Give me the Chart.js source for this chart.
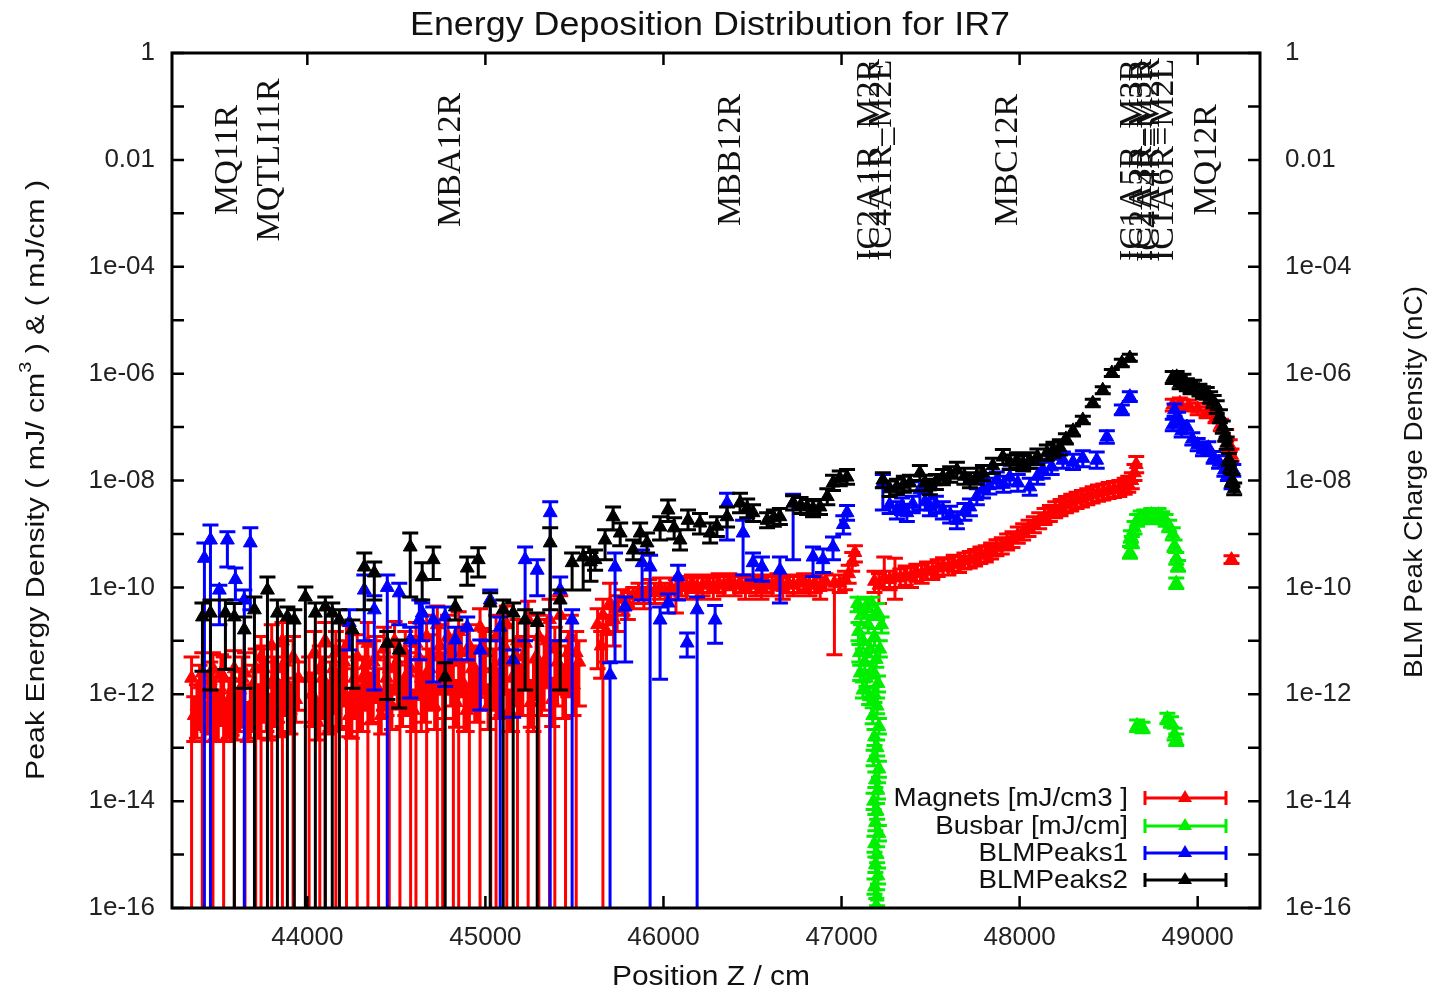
<!DOCTYPE html>
<html>
<head>
<meta charset="utf-8">
<script src="https://cdn.jsdelivr.net/npm/chart.js@4.4.1/dist/chart.umd.min.js"></script>
<style>
html,body{margin:0;padding:0;background:#fff;}
#wrap{position:relative;width:1438px;height:993px;}
</style>
</head>
<body>
<div id="wrap"><canvas id="c" width="1438" height="993"></canvas></div>
<script>
// Each row: [position Z (cm), value, lower end of error bar, upper end of error bar]
// A lower end of 0 means the error bar runs below the bottom of the axis.
const magnets = [
  [43350,2e-12,0,5e-12],[43380,6e-13,1.5e-13,1.5e-12],[43410,2.5e-12,0,6e-12],[43440,1e-12,2e-13,2.5e-12],
  [43470,3e-12,0,6e-12],[43500,5e-13,1.3e-13,1.2e-12],[43530,2e-12,0,5e-12],[43560,8e-13,1.5e-13,2e-12],
  [43590,3e-12,0,6.5e-12],[43620,1.2e-12,2e-13,3e-12],[43650,2.5e-12,0,6e-12],[43680,6e-13,1.5e-13,1.5e-12],
  [43710,3e-12,0,7e-12],[43740,5e-12,0,1.2e-11],[43770,1.5e-12,2e-13,4e-12],[43800,8e-12,0,2e-11],
  [43830,3e-12,3e-13,8e-12],[43860,1e-11,0,2.2e-11],[43890,1.5e-12,2e-13,4e-12],[43920,5e-12,0,1.2e-11],
  [43950,2e-12,5e-13,4e-12],[44010,2e-12,0,5e-12],[44040,6e-12,3e-13,1.5e-11],[44070,3e-12,0,8e-12],
  [44100,1e-11,0,2.2e-11],[44130,1.5e-12,2e-13,4e-12],[44160,6e-12,0,1.5e-11],[44190,2.5e-12,2.5e-13,7e-12],
  [44220,8e-12,0,2e-11],[44250,1e-12,1.5e-13,3e-12],[44280,5e-12,0,1.3e-11],[44310,2e-12,2e-13,5e-12],
  [44340,9e-12,0,2.2e-11],[44370,4e-12,3e-13,1e-11],[44400,1.2e-12,0,3e-12],[44430,7e-12,5e-13,1.8e-11],
  [44460,3e-12,0,8e-12],[44490,1e-11,1e-12,2.3e-11],[44520,1.5e-12,0,4e-12],[44550,6e-12,4e-13,1.5e-11],
  [44580,3e-12,0,8e-12],[44610,9e-12,0,2.2e-11],[44640,2e-12,2e-13,5e-12],[44670,1.2e-11,0,3e-11],
  [44700,5e-12,5e-13,1.3e-11],[44730,2e-11,0,4.5e-11],[44760,2.5e-12,0,6e-12],[44790,1.2e-11,1e-12,3e-11],
  [44820,4e-12,0,1e-11],[44850,1.5e-11,0,3.5e-11],[44880,1.5e-12,2e-13,4e-12],[44910,8e-12,0,2e-11],
  [44940,3e-12,3e-13,8e-12],[44970,1.8e-11,0,4e-11],[45000,6e-12,5e-13,1.5e-11],[45030,1e-12,0,3e-12],
  [45060,1.2e-11,0,3e-11],[45090,4e-12,4e-13,1e-11],[45120,2e-11,0,4.5e-11],[45150,2e-12,2e-13,5e-12],
  [45180,1e-11,0,2.5e-11],[45210,5e-12,4e-13,1.2e-11],[45240,2.5e-11,0,5.5e-11],[45270,1.5e-12,2e-13,4e-12],
  [45300,1.2e-11,0,3e-11],[45330,4e-12,5e-13,1e-11],[45360,2.5e-11,0,6e-11],[45390,7e-12,0,1.8e-11],
  [45420,3e-11,1e-12,7e-11],[45450,3e-12,0,8e-12],[45480,1.2e-11,1e-12,3e-11],[45510,6e-12,0,1.5e-11],
  [43365,4e-13,1.3e-13,9e-13],[43395,1.5e-12,2.2e-13,3.5e-12],[43425,3e-13,1.3e-13,7e-13],[43455,1.8e-12,1.8e-13,4e-12],
  [43485,8e-13,1.4e-13,2e-12],[43515,2.5e-12,2.6e-13,5.5e-12],[43545,3.5e-13,1.3e-13,8e-13],[43575,1.2e-12,1.7e-13,3e-12],
  [43605,5e-13,1.4e-13,1.2e-12],[43635,2e-12,2.4e-13,5e-12],[43665,3e-13,1.3e-13,7e-13],[43695,1.5e-12,2e-13,3.5e-12],
  [43725,6e-13,1.5e-13,1.5e-12],[43755,3e-12,3e-13,8e-12],[43785,4e-13,1.4e-13,1e-12],[43815,2e-12,2.5e-13,5e-12],
  [43845,7e-13,1.6e-13,1.8e-12],[43875,4e-12,4e-13,1e-11],[43905,5e-13,1.8e-13,1.2e-12],[43935,8e-13,3e-13,2e-12],
  [44025,1e-12,2.5e-13,2.5e-12],[44055,3e-13,1.4e-13,8e-13],[44085,2e-12,3.5e-13,5e-12],[44115,5e-13,1.8e-13,1.3e-12],
  [44145,3e-12,4.5e-13,8e-12],[44175,8e-13,2.2e-13,2e-12],[44205,4e-12,6e-13,1e-11],[44235,4e-13,1.6e-13,1e-12],
  [44265,2e-12,3.5e-13,5e-12],[44295,6e-13,2e-13,1.5e-12],[44325,3.5e-12,5e-13,9e-12],[44355,1e-12,2.8e-13,2.5e-12],
  [44385,5e-12,7e-13,1.2e-11],[44415,4e-13,1.8e-13,1e-12],[44445,2e-12,4e-13,5e-12],[44475,6e-13,2.2e-13,1.5e-12],
  [44505,4e-12,6e-13,1e-11],[44535,8e-13,2.5e-13,2e-12],[44565,2.5e-12,4.5e-13,6e-12],[44595,5e-13,2e-13,1.2e-12],
  [44625,5e-12,8e-13,1.2e-11],[44655,1e-12,3e-13,2.5e-12],[44685,3e-12,5e-13,7e-12],[44715,6e-13,2.2e-13,1.5e-12],
  [44745,8e-12,1e-12,2e-11],[44775,1.2e-12,3.5e-13,3e-12],[44805,4e-12,6e-13,1e-11],[44835,7e-13,2.4e-13,1.8e-12],
  [44865,6e-12,9e-13,1.5e-11],[44895,5e-13,2e-13,1.2e-12],[44925,3e-12,5e-13,7e-12],[44955,1e-12,3e-13,2.5e-12],
  [44985,7e-12,1e-12,1.7e-11],[45015,6e-13,2.2e-13,1.5e-12],[45045,3e-12,5e-13,7e-12],[45075,1.2e-12,3.5e-13,3e-12],
  [45105,8e-12,1e-12,2e-11],[45135,5e-13,2e-13,1.2e-12],[45165,4e-12,6e-13,1e-11],[45195,1.5e-12,4e-13,3.5e-12],
  [45225,9e-12,1.2e-12,2.2e-11],[45255,7e-13,2.4e-13,1.8e-12],[45285,5e-12,8e-13,1.2e-11],[45315,1.5e-12,4e-13,3.5e-12],
  [45345,1e-11,1.4e-12,2.5e-11],[45375,8e-13,2.5e-13,2e-12],[45405,4e-12,6e-13,1e-11],[45435,1.2e-12,3.5e-13,3e-12],
  [45465,6e-12,9e-13,1.5e-11],[45495,1.5e-12,4e-13,3.5e-12],[45525,4e-12,6e-13,1e-11],
  [45630,2e-11,3e-12,4e-11],[45650,8e-12,2e-12,1.5e-11],[45660,3e-11,0,6e-11],[45680,1.5e-11,4e-12,3e-11],
  [45700,5e-11,2e-11,1.2e-10],[45720,2.5e-11,8e-12,4e-11],[45740,4e-11,1.5e-11,7e-11],[45770,6e-11,3e-11,9e-11],
  [45800,5e-11,2.5e-11,8e-11],[45830,7e-11,4e-11,1e-10],[45860,8e-11,5e-11,1.2e-10],[45890,7e-11,4e-11,1e-10],
  [45920,9e-11,5e-11,1.4e-10],[45950,8e-11,5e-11,1.2e-10],[45980,1e-10,6e-11,1.5e-10],[46010,8e-11,5e-11,1.2e-10],
  [46040,1e-10,6e-11,1.5e-10],[46070,9e-11,3.3e-11,1.4e-10],[46100,1.1e-10,7e-11,1.6e-10],[46130,1e-10,6e-11,1.5e-10],
  [46160,1.2e-10,8e-11,1.7e-10],[46190,1e-10,6e-11,1.5e-10],[46220,1.1e-10,7e-11,1.6e-10],[46250,1.2e-10,8e-11,1.7e-10],
  [46280,1e-10,6e-11,1.5e-10],[46310,1.2e-10,8e-11,1.8e-10],[46340,1.1e-10,7e-11,1.6e-10],[46370,1.3e-10,9e-11,1.8e-10],
  [46400,1.1e-10,7e-11,1.6e-10],[46430,1.2e-10,8e-11,1.7e-10],[46460,1e-10,6e-11,1.5e-10],[46490,1.2e-10,8e-11,1.7e-10],
  [46520,1.1e-10,7e-11,1.6e-10],[46550,1e-10,6e-11,1.5e-10],[46580,1.2e-10,8e-11,1.7e-10],[46610,1.1e-10,7e-11,1.6e-10],
  [46640,1.3e-10,9e-11,1.8e-10],[46670,1e-10,6e-11,1.5e-10],[46700,1.2e-10,8e-11,1.7e-10],[46730,1.1e-10,7e-11,1.6e-10],
  [46760,1.2e-10,8e-11,1.7e-10],[46790,1.3e-10,9e-11,1.8e-10],[46820,1.1e-10,7e-11,1.6e-10],[46850,1.2e-10,8e-11,1.7e-10],
  [46880,1e-10,6e-11,1.5e-10],[46910,1.3e-10,9e-11,1.8e-10],[46960,1.2e-10,5.5e-12,1.7e-10],[46990,1.2e-10,8e-11,1.7e-10],
  [47020,1.4e-10,9e-11,2e-10],[47040,1.8e-10,1.2e-10,2.6e-10],[47060,3e-10,2e-10,4.5e-10],[47075,4.5e-10,3e-10,6e-10],
  [47185,1.3e-10,8e-11,2e-10],[47210,1.1e-10,5e-11,1.8e-10],[47240,1.5e-10,1e-10,3.7e-10],[47270,1.4e-10,9e-11,2e-10],
  [47300,1.6e-10,6e-11,3.5e-10],[47330,1.5e-10,1e-10,2.2e-10],[47360,1.7e-10,1.1e-10,2.5e-10],[47390,1.6e-10,1e-10,2.3e-10],
  [47420,1.9e-10,1.3e-10,2.7e-10],[47450,1.8e-10,1.2e-10,2.6e-10],[47480,2.1e-10,1.4e-10,3e-10],[47510,2e-10,1.4e-10,2.9e-10],
  [47540,2.3e-10,1.6e-10,3.3e-10],[47570,2.5e-10,1.7e-10,3.6e-10],[47600,2.4e-10,1.7e-10,3.4e-10],[47630,2.8e-10,2e-10,4e-10],
  [47660,2.7e-10,1.9e-10,3.8e-10],[47690,3.1e-10,2.2e-10,4.4e-10],[47720,3.3e-10,2.3e-10,4.7e-10],[47750,3.6e-10,2.5e-10,5.1e-10],
  [47780,4e-10,2.8e-10,5.7e-10],[47810,4.2e-10,3e-10,6e-10],[47840,4.8e-10,3.4e-10,6.8e-10],[47870,5.5e-10,3.9e-10,7.8e-10],
  [47900,6e-10,4.2e-10,8.5e-10],[47930,7e-10,5e-10,1e-9],[47960,8e-10,5.6e-10,1.1e-9],[47990,9.5e-10,6.7e-10,1.35e-9],
  [48020,1.1e-9,7.7e-10,1.55e-9],[48050,1.3e-9,9e-10,1.8e-9],[48080,1.5e-9,1.05e-9,2.1e-9],[48110,1.8e-9,1.25e-9,2.5e-9],
  [48140,2.1e-9,1.5e-9,3e-9],[48170,2.4e-9,1.7e-9,3.4e-9],[48200,2.8e-9,2e-9,4e-9],[48230,3.1e-9,2.2e-9,4.4e-9],
  [48260,3.5e-9,2.5e-9,5e-9],[48290,3.9e-9,2.7e-9,5.5e-9],[48320,4.3e-9,3e-9,6e-9],[48350,4.6e-9,3.2e-9,6.5e-9],
  [48380,5e-9,3.5e-9,7e-9],[48410,5.4e-9,3.8e-9,7.6e-9],[48440,5.8e-9,4.1e-9,8.2e-9],[48470,6.1e-9,4.3e-9,8.6e-9],
  [48500,6.5e-9,4.6e-9,9.2e-9],[48530,6.8e-9,4.8e-9,9.6e-9],[48560,7.2e-9,5e-9,1e-8],[48590,7.8e-9,5.5e-9,1.1e-8],
  [48610,8.5e-9,6e-9,1.2e-8],[48630,1e-8,7e-9,1.4e-8],[48645,1.4e-8,1e-8,2e-8],[48655,2e-8,1.4e-8,2.8e-8],
  [48860,2.6e-7,2e-7,3.3e-7],[48900,2.8e-7,2.2e-7,3.5e-7],[48950,2.5e-7,2e-7,3.2e-7],[49000,2.2e-7,1.7e-7,2.8e-7],
  [49050,1.9e-7,1.5e-7,2.4e-7],[49100,1.5e-7,1.2e-7,1.9e-7],[49130,1.1e-7,8.5e-8,1.4e-7],[49160,7e-8,5.5e-8,9e-8],
  [49180,4.5e-8,3.5e-8,5.8e-8],[49190,3e-8,2.3e-8,3.9e-8],[49190,3.3e-10,2.8e-10,3.9e-10]
];
const busbar = [
  [47090,5e-11,3.5e-11,6.5e-11],[47110,3e-11,2e-11,4e-11],[47140,4.5e-11,3e-11,6e-11],[47170,5e-11,3.5e-11,6.5e-11],
  [47200,3.5e-11,2.5e-11,5e-11],[47225,2e-11,1.4e-11,2.8e-11],[47095,1.5e-11,1e-11,2.2e-11],[47120,1e-11,7e-12,1.4e-11],
  [47150,2e-11,1.4e-11,2.8e-11],[47185,1.2e-11,8e-12,1.7e-11],[47215,7e-12,5e-12,1e-11],[47100,6e-12,4e-12,8.5e-12],
  [47130,4e-12,2.8e-12,5.6e-12],[47160,7e-12,5e-12,1e-11],[47195,4.5e-12,3.2e-12,6.3e-12],[47105,2.5e-12,1.8e-12,3.5e-12],
  [47140,2e-12,1.4e-12,2.8e-12],[47175,2.8e-12,2e-12,4e-12],[47205,1.6e-12,1.1e-12,2.2e-12],[47120,1.2e-12,8.5e-13,1.7e-12],
  [47155,9e-13,6.4e-13,1.3e-12],[47185,1e-12,7e-13,1.4e-12],[47200,6e-13,4.3e-13,8.5e-13],[47175,4e-13,2.8e-13,5.6e-13],
  [47210,2.5e-13,1.8e-13,3.5e-13],[47185,1.6e-13,1.1e-13,2.2e-13],[47200,1e-13,7e-14,1.4e-13],[47180,6.5e-14,4.6e-14,9e-14],
  [47210,4e-14,2.8e-14,5.6e-14],[47190,2.5e-14,1.8e-14,3.5e-14],[47205,1.6e-14,1.1e-14,2.2e-14],[47180,1e-14,7e-15,1.4e-14],
  [47200,6.5e-15,4.6e-15,9e-15],[47190,4e-15,2.8e-15,5.6e-15],[47210,2.5e-15,1.8e-15,3.5e-15],[47185,1.6e-15,1.1e-15,2.2e-15],
  [47200,1e-15,7e-16,1.4e-15],[47190,6.5e-16,4.6e-16,9e-16],[47205,4e-16,2.8e-16,5.6e-16],[47185,2.5e-16,1.8e-16,3.5e-16],
  [47200,1.6e-16,1.1e-16,2.2e-16],[47195,1.1e-16,8e-17,1.5e-16],
  [48620,4.5e-10,3.5e-10,5.8e-10],[48625,9e-10,7e-10,1.15e-9],[48630,7e-10,5.5e-10,9e-10],[48645,1.3e-9,1e-9,1.7e-9],
  [48660,1.8e-9,1.4e-9,2.3e-9],[48680,2.1e-9,1.6e-9,2.7e-9],[48700,2.2e-9,1.7e-9,2.8e-9],[48720,2e-9,1.55e-9,2.6e-9],
  [48740,2.3e-9,1.8e-9,3e-9],[48760,2.1e-9,1.6e-9,2.7e-9],[48780,2.3e-9,1.8e-9,3e-9],[48800,2e-9,1.55e-9,2.6e-9],
  [48820,1.8e-9,1.4e-9,2.3e-9],[48840,1.4e-9,1.1e-9,1.8e-9],[48860,1e-9,7.8e-10,1.3e-9],[48870,6e-10,4.7e-10,7.7e-10],
  [48880,3.5e-10,2.7e-10,4.5e-10],[48890,2.5e-10,2e-10,3.2e-10],[48880,1.2e-10,9.5e-11,1.5e-10],
  [48660,2.6e-13,2e-13,3.3e-13],[48690,2.4e-13,1.9e-13,3e-13],[48830,3.5e-13,2.8e-13,4.4e-13],[48850,3e-13,2.4e-13,3.8e-13],
  [48870,1.8e-13,1.4e-13,2.3e-13],[48880,1.4e-13,1.1e-13,1.8e-13]
];
const blmPeaks1 = [
  [43422,3.5e-10,0,6.8e-10],[43456,7.7e-10,0,1.47e-9],[43506,8.9e-11,2e-11,1.1e-10],[43551,7.7e-10,2.4e-10,1.1e-9],
  [43596,1.4e-10,5.8e-11,2.3e-10],[43646,5.8e-11,0,8.9e-11],[43680,6.8e-10,3.8e-11,1.3e-9],
  [44236,2.2e-11,6.7e-12,3.8e-11],[44320,8.9e-11,1e-11,1.7e-10],[44376,3.8e-11,1.2e-12,7e-11],[44449,1e-10,0,1.7e-10],
  [44516,7.9e-11,2e-11,1.2e-10],[44578,1.04e-11,8.5e-13,1.8e-11],[44629,2.45e-11,4.4e-12,5.8e-11],[44645,3.3e-11,1e-11,5.1e-11],
  [44707,2.45e-11,1.7e-12,4.3e-11],[44774,2.8e-11,1.4e-12,4.3e-11],[44831,1.04e-11,4.4e-12,1.8e-11],[44898,1.8e-11,4.4e-12,2.8e-11],
  [44971,6.7e-12,5.1e-13,1.04e-11],[45027,5.8e-11,1e-11,8.9e-11],[45083,1.8e-11,0,2.8e-11],[45156,4.4e-12,3.7e-13,6.7e-12],
  [45223,3.3e-10,1e-11,5.7e-10],[45291,2.1e-10,7e-11,3.3e-10],[45364,2.5e-9,0,4e-9],[45420,8.9e-11,1e-11,1.57e-10],
  [45487,2.45e-11,0,3.8e-11],[45700,2.3e-12,0,3.9e-12],[45728,2.4e-10,4e-12,4.4e-10],[45785,4.3e-11,4e-12,6.6e-11],
  [45880,2.9e-10,5.8e-11,5e-10],[45925,2.4e-10,0,4e-10],[45981,2.45e-11,1.9e-12,4.3e-11],[46026,5.1e-11,3.3e-11,7.5e-11],
  [46082,1.57e-10,5.8e-11,2.6e-10],[46133,9.1e-12,5e-12,1.4e-11],[46189,3.8e-11,0,6.6e-11],[46290,2.45e-11,9e-12,4.6e-11],
  [46357,3.8e-9,7.7e-10,5.8e-9],[46447,1.04e-9,1.7e-10,1.8e-9],[46503,2.9e-10,1.37e-10,4.4e-10],[46553,2.4e-10,1.3e-10,3.7e-10],
  [46654,2.1e-10,5.1e-11,3.7e-10],[46728,3.8e-9,3.3e-10,5.5e-9],[46840,3.7e-10,1.6e-10,5.7e-10],[46896,3.3e-10,1.9e-10,5.2e-10],
  [46952,5.7e-10,3.3e-10,8.8e-10],[47010,1.5e-9,1e-9,2.2e-9],[47031,2.5e-9,1.8e-9,3.4e-9],
  [47232,9e-9,2.8e-9,1.3e-8],[47270,3.5e-9,2.4e-9,5e-9],[47311,2.8e-9,1.9e-9,4e-9],[47340,3.3e-9,2.3e-9,4.7e-9],
  [47367,2.5e-9,1.7e-9,3.6e-9],[47400,3.6e-9,2.5e-9,5.1e-9],[47440,6.7e-9,2.8e-9,9.5e-9],[47470,4e-9,2.8e-9,5.7e-9],
  [47496,3.2e-9,2.2e-9,4.5e-9],[47530,3.6e-9,2.5e-9,5.1e-9],[47569,2.8e-9,1.9e-9,4e-9],[47610,2.3e-9,1.6e-9,3.3e-9],
  [47648,1.8e-9,1.25e-9,2.6e-9],[47690,2.6e-9,1.8e-9,3.7e-9],[47721,3.2e-9,2.2e-9,4.5e-9],[47760,5e-9,3.5e-9,7e-9],
  [47794,6.7e-9,4.7e-9,9.5e-9],[47830,8e-9,5.6e-9,1.1e-8],[47872,1.02e-8,7.2e-9,1.45e-8],[47910,8.5e-9,6e-9,1.2e-8],
  [47945,1.16e-8,8.2e-9,1.65e-8],[47990,9e-9,6.3e-9,1.3e-8],[48057,7.6e-9,5.3e-9,1.1e-8],[48100,1.2e-8,8.5e-9,1.7e-8],
  [48130,1.57e-8,1.1e-8,2.2e-8],[48180,1.8e-8,1.3e-8,2.5e-8],[48243,2.4e-8,1.7e-8,3.4e-8],[48300,2.2e-8,1.6e-8,3.1e-8],
  [48355,2.6e-8,1.8e-8,3.6e-8],[48433,2.4e-8,1.7e-8,3.4e-8],[48490,6.5e-8,5e-8,8.5e-8],[48574,2.1e-7,1.7e-7,2.6e-7],
  [48619,3.7e-7,3e-7,4.6e-7],
  [48860,1.1e-7,8.5e-8,1.4e-7],[48870,2.1e-7,1.6e-7,2.7e-7],[48890,1.5e-7,1.15e-7,1.9e-7],[48910,8.5e-8,6.5e-8,1.1e-7],
  [48940,1e-7,7.7e-8,1.3e-7],[48970,6e-8,4.6e-8,7.8e-8],[49000,4.7e-8,3.6e-8,6.1e-8],[49030,3.8e-8,2.9e-8,4.9e-8],
  [49060,4.1e-8,3.2e-8,5.3e-8],[49090,2.7e-8,2.1e-8,3.5e-8],[49120,2.2e-8,1.7e-8,2.9e-8],[49150,1.57e-8,1.2e-8,2e-8],
  [49170,1.3e-8,1e-8,1.7e-8],[49190,9e-9,7e-9,1.2e-8],[49200,1.57e-8,1.2e-8,2e-8]
];
const blmPeaks2 = [
  [43411,2.8e-11,2.7e-12,5.1e-11],[43456,3.3e-11,1.2e-12,5.8e-11],[43540,3.3e-11,2.9e-12,5.8e-11],[43590,2.8e-11,0,5e-11],
  [43646,1.6e-11,1.3e-12,2.8e-11],[43703,3.8e-11,0,6.6e-11],[43776,8.9e-11,0,1.57e-10],[43832,3.3e-11,0,5.8e-11],
  [43888,2.8e-11,0,4.3e-11],[43927,2.45e-11,0,3.8e-11],[43989,6.6e-11,0,1.02e-10],[44045,3.3e-11,0,5.1e-11],
  [44101,4.3e-11,0,6.6e-11],[44140,3.3e-11,0,5.1e-11],[44180,2.45e-11,0,3.8e-11],[44253,1.6e-11,1.3e-12,2.45e-11],
  [44320,2.4e-10,3.8e-11,4.4e-10],[44376,1.86e-10,5.8e-11,3e-10],[44449,9e-12,8e-13,1.5e-11],[44516,6.7e-12,5.5e-13,1.04e-11],
  [44578,5.7e-10,6.6e-11,1.04e-9],[44645,1.57e-10,5.8e-11,2.9e-10],[44707,3.3e-10,1.4e-10,5.7e-10],[44774,2.1e-12,0,3.9e-12],
  [44831,4.3e-11,2.45e-11,6.6e-11],[44898,2.3e-10,1.1e-10,3.7e-10],[44960,3.3e-10,1.57e-10,5.5e-10],[45027,5.1e-11,0,7.9e-11],
  [45100,3.8e-11,0,5.8e-11],[45156,3.3e-11,0,5.1e-11],[45223,2.45e-11,1.2e-12,3.8e-11],[45291,2.2e-11,0,3.3e-11],
  [45364,6.8e-10,3.8e-11,1.3e-9],[45420,5.8e-11,1.2e-12,8.9e-11],[45487,2.9e-10,8.9e-11,4.4e-10],[45549,3.7e-10,8.9e-11,5.7e-10],
  [45590,3e-10,1.3e-10,4.5e-10],[45616,3.3e-10,2.1e-10,5e-10],[45672,7.7e-10,3.3e-10,1.2e-9],[45717,2.1e-9,1.19e-9,3.2e-9],
  [45757,1.04e-9,6e-10,1.6e-9],[45830,5e-10,3.3e-10,7.7e-10],[45869,1.04e-9,6.8e-10,1.6e-9],[45908,6.8e-10,4.4e-10,1.04e-9],
  [45981,1.35e-9,7.7e-10,2.1e-9],[46026,2.8e-9,1.7e-9,4.3e-9],[46060,1.3e-9,8e-10,2e-9],[46093,7.7e-10,5e-10,1.2e-9],
  [46138,1.8e-9,1.2e-9,2.8e-9],[46205,1.6e-9,1e-9,2.4e-9],[46262,1.04e-9,6.8e-10,1.6e-9],[46300,1.4e-9,9e-10,2.1e-9],
  [46357,2.1e-9,1.35e-9,3.2e-9],[46430,3.8e-9,2.5e-9,5.8e-9],[46470,3e-9,2e-9,4.5e-9],[46503,2.5e-9,1.7e-9,3.5e-9],
  [46582,1.8e-9,1.3e-9,2.5e-9],[46620,2e-9,1.4e-9,2.8e-9],[46654,2.1e-9,1.5e-9,3e-9],[46728,3.8e-9,2.8e-9,5.2e-9],
  [46770,3.4e-9,2.4e-9,4.8e-9],[46806,3.2e-9,2.3e-9,4.4e-9],[46840,3e-9,2.1e-9,4.2e-9],[46879,3.2e-9,2.3e-9,4.4e-9],
  [46920,5e-9,3.5e-9,7e-9],[46952,9e-9,6.5e-9,1.25e-8],[46990,1.1e-8,8e-9,1.5e-8],[47031,1.16e-8,8.5e-9,1.6e-8],
  [47232,1.02e-8,7.3e-9,1.4e-8],[47270,7e-9,5e-9,9.8e-9],[47311,7.6e-9,5.4e-9,1.05e-8],[47350,8.5e-9,6e-9,1.2e-8],
  [47384,9e-9,6.4e-9,1.25e-8],[47440,1.38e-8,1e-8,1.9e-8],[47470,9e-9,6.4e-9,1.25e-8],[47496,7.6e-9,5.4e-9,1.05e-8],
  [47530,9.5e-9,6.8e-9,1.3e-8],[47569,1.16e-8,8.3e-9,1.6e-8],[47610,1.3e-8,9.3e-9,1.8e-8],[47648,1.57e-8,1.1e-8,2.2e-8],
  [47690,1.2e-8,8.5e-9,1.7e-8],[47721,1.02e-8,7.3e-9,1.4e-8],[47760,1.2e-8,8.5e-9,1.7e-8],[47794,1.38e-8,1e-8,1.9e-8],
  [47850,1.9e-8,1.35e-8,2.6e-8],[47906,2.75e-8,2e-8,3.8e-8],[47945,2.2e-8,1.6e-8,3e-8],[47985,2.4e-8,1.7e-8,3.3e-8],
  [48020,2.1e-8,1.5e-8,2.9e-8],[48057,2.4e-8,1.7e-8,3.3e-8],[48100,2.8e-8,2e-8,3.9e-8],[48153,3.3e-8,2.4e-8,4.6e-8],
  [48190,3.8e-8,2.7e-8,5.2e-8],[48226,4.2e-8,3e-8,5.8e-8],[48260,6e-8,4.8e-8,7.5e-8],[48300,8.5e-8,6.8e-8,1.05e-7],
  [48355,1.36e-7,1.15e-7,1.6e-7],[48411,2.8e-7,2.4e-7,3.3e-7],[48467,4.9e-7,4.2e-7,5.7e-7],[48518,1.03e-6,8.8e-7,1.2e-6],
  [48574,1.58e-6,1.35e-6,1.85e-6],[48619,1.96e-6,1.7e-6,2.3e-6],
  [48860,8.5e-7,6.5e-7,1.1e-6],[48882,8.7e-7,6.7e-7,1.1e-6],[48899,6.7e-7,5.2e-7,8.7e-7],[48920,7.5e-7,5.8e-7,9.7e-7],
  [48939,6.2e-7,4.8e-7,8e-7],[48960,5.4e-7,4.2e-7,7e-7],[48980,5.8e-7,4.5e-7,7.5e-7],[49010,4.9e-7,3.8e-7,6.3e-7],
  [49030,4.4e-7,3.4e-7,5.7e-7],[49051,4.3e-7,3.3e-7,5.5e-7],[49070,3.6e-7,2.8e-7,4.6e-7],[49090,3e-7,2.3e-7,3.9e-7],
  [49107,2.4e-7,1.8e-7,3.1e-7],[49125,1.6e-7,1.2e-7,2.1e-7],[49141,1e-7,7.7e-8,1.3e-7],[49155,7e-8,5.4e-8,9e-8],
  [49163,5e-8,3.8e-8,6.5e-8],[49175,2.5e-8,1.9e-8,3.2e-8],[49185,1.8e-8,1.4e-8,2.3e-8],[49195,1e-8,7.7e-9,1.3e-8],
  [49205,7e-9,5.4e-9,9e-9]
];

const seriesNames = ['Magnets [mJ/cm3 ]', 'Busbar [mJ/cm]', 'BLMPeaks1', 'BLMPeaks2'];
const seriesColors = ['#ff0000', '#00ee00', '#0000ff', '#000000'];
const xTickValues = [44000, 45000, 46000, 47000, 48000, 49000];
const yTickValues = [1, 1e-1, 1e-2, 1e-3, 1e-4, 1e-5, 1e-6, 1e-7, 1e-8, 1e-9, 1e-10, 1e-11, 1e-12, 1e-13, 1e-14, 1e-15, 1e-16];
const elementLabels = [
  ['MQ11R', 43557], ['MQTLI11R', 43792], ['MBA12R', 44808], ['MBB12R', 46379],
  ['IC2A1R_M2R', 47160], ['IC4A1R_M2E', 47230], ['MBC12R', 47934],
  ['IC1A5R_M3R', 48640], ['IC2A3R_M3R', 48690], ['IC4A4R=M2R', 48730], ['IC1A6R=M2L', 48810], ['MQ12R', 49050]
];
const labelLevel = 0.01;

const seriesData = [magnets, busbar, blmPeaks1, blmPeaks2];

function yLabel(v) {
  const e = Math.round(Math.log10(v));
  if (e % 2 !== 0) return '';
  if (e === 0) return '1';
  if (e === -2) return '0.01';
  return '1e-' + String(-e).padStart(2, '0');
}

const SANS = '"Liberation Sans", Arial, sans-serif';
const SERIF = '"Liberation Serif", "Times New Roman", serif';

function fitText(ctx, text, cx, cy, len, size, family, rot) {
  ctx.save();
  ctx.font = size + 'px ' + family;
  const w = ctx.measureText(text).width;
  ctx.translate(cx, cy);
  ctx.rotate(rot);
  if (len) ctx.scale(len / w, 1);
  ctx.textAlign = 'center';
  ctx.textBaseline = 'middle';
  ctx.fillText(text, 0, 0);
  ctx.restore();
}

const errorBarPlugin = {
  id: 'errorBars',
  beforeDatasetDraw(chart, args) {
    const rows = seriesData[args.index];
    const color = seriesColors[args.index];
    const xs = chart.scales.x, ys = chart.scales.y, a = chart.chartArea;
    const ctx = chart.ctx;
    ctx.save();
    ctx.beginPath();
    ctx.rect(a.left, a.top, a.right - a.left, a.bottom - a.top);
    ctx.clip();
    ctx.strokeStyle = color;
    ctx.lineWidth = 3;
    ctx.beginPath();
    for (const r of rows) {
      const px = xs.getPixelForValue(r[0]);
      const yh = ys.getPixelForValue(r[3]);
      const yl = r[2] > 0 ? ys.getPixelForValue(r[2]) : a.bottom + 20;
      ctx.moveTo(px, yh); ctx.lineTo(px, yl);
      ctx.moveTo(px - 8, yh); ctx.lineTo(px + 8, yh);
      if (r[2] > 0) { ctx.moveTo(px - 8, yl); ctx.lineTo(px + 8, yl); }
    }
    ctx.stroke();
    ctx.restore();
  }
};

const framePlugin = {
  id: 'frame',
  afterDatasetsDraw(chart) {
    const ctx = chart.ctx, a = chart.chartArea;
    const xs = chart.scales.x, ys = chart.scales.y;
    ctx.save();
    ctx.strokeStyle = '#000';
    ctx.lineWidth = 2.5;
    ctx.beginPath();
    for (const v of xTickValues) {
      const px = xs.getPixelForValue(v);
      ctx.moveTo(px, a.bottom); ctx.lineTo(px, a.bottom - 12);
      ctx.moveTo(px, a.top); ctx.lineTo(px, a.top + 12);
    }
    for (const v of yTickValues) {
      const py = ys.getPixelForValue(v);
      ctx.moveTo(a.left, py); ctx.lineTo(a.left + 12, py);
      ctx.moveTo(a.right, py); ctx.lineTo(a.right - 12, py);
    }
    ctx.stroke();
    ctx.lineWidth = 3;
    ctx.strokeRect(a.left, a.top, a.right - a.left, a.bottom - a.top);
    ctx.restore();
  },
  afterDraw(chart) {
    const ctx = chart.ctx, a = chart.chartArea;
    const xs = chart.scales.x, ys = chart.scales.y;
    ctx.save();
    ctx.fillStyle = '#111';
    fitText(ctx, 'Energy Deposition Distribution for IR7', 710, 26, 600, 33, SANS, 0);
    fitText(ctx, 'Position Z / cm', 711, 978, 198, 27, SANS, 0);
    fitText(ctx, 'BLM Peak Charge Density (nC)', 1415, 482, 392, 26, SANS, -Math.PI / 2);
    const segs = [['Peak Energy Density ( mJ/ cm', 26, 0], ['3', 17, -11], [' ) & ( mJ/cm )', 26, 0]];
    let total = 0;
    for (const s of segs) { ctx.font = s[1] + 'px ' + SANS; s.push(ctx.measureText(s[0]).width); total += s[3]; }
    ctx.save();
    ctx.translate(37, 480);
    ctx.rotate(-Math.PI / 2);
    ctx.scale(600 / total, 1);
    ctx.textAlign = 'left';
    ctx.textBaseline = 'middle';
    let cx = -total / 2;
    for (const s of segs) { ctx.font = s[1] + 'px ' + SANS; ctx.fillText(s[0], cx, s[2]); cx += s[3]; }
    ctx.restore();
    const ly = ys.getPixelForValue(labelLevel);
    for (const [name, z] of elementLabels) {
      fitText(ctx, name, xs.getPixelForValue(z), ly, 0, 34, SERIF, -Math.PI / 2);
    }
    const rowsY = [798, 826, 853, 880];
    for (let i = 0; i < 4; i++) {
      const y = rowsY[i];
      ctx.fillStyle = '#111';
      ctx.font = '25px ' + SANS;
      ctx.save();
      ctx.translate(1128, y);
      ctx.scale(1.11, 1);
      ctx.textAlign = 'right';
      ctx.textBaseline = 'middle';
      ctx.fillText(seriesNames[i], 0, 1);
      ctx.restore();
      ctx.strokeStyle = seriesColors[i];
      ctx.lineWidth = 3;
      ctx.beginPath();
      ctx.moveTo(1145, y); ctx.lineTo(1226, y);
      ctx.moveTo(1145, y - 7); ctx.lineTo(1145, y + 7);
      ctx.moveTo(1226, y - 7); ctx.lineTo(1226, y + 7);
      ctx.stroke();
      ctx.fillStyle = seriesColors[i];
      ctx.beginPath();
      ctx.moveTo(1185, y - 8); ctx.lineTo(1192, y + 4); ctx.lineTo(1178, y + 4); ctx.closePath();
      ctx.fill();
    }
    ctx.restore();
  }
};

const datasets = seriesData.map((rows, i) => ({
  label: seriesNames[i],
  data: rows.map(r => ({ x: r[0], y: r[1] })),
  backgroundColor: seriesColors[i],
  borderColor: seriesColors[i],
  borderWidth: 1,
  pointStyle: 'triangle',
  pointRadius: 8,
  showLine: false,
  order: 4 - i,
  clip: 0
}));

new Chart(document.getElementById('c'), {
  type: 'scatter',
  data: { datasets },
  options: {
    responsive: false,
    animation: false,
    devicePixelRatio: 1,
    layout: { padding: { top: 53, left: 0, right: 0, bottom: 0 } },
    plugins: { legend: { display: false }, tooltip: { enabled: false }, title: { display: false } },
    scales: {
      x: {
        type: 'linear', position: 'bottom', min: 43240, max: 49350,
        afterBuildTicks: s => { s.ticks = xTickValues.map(v => ({ value: v })); },
        afterFit: s => { s.height = 85; },
        grid: { display: false, drawTicks: false },
        border: { display: false },
        ticks: { color: '#222', font: { family: SANS, size: 26 }, padding: 14, maxRotation: 0, autoSkip: false, callback: v => String(v) }
      },
      y: {
        type: 'logarithmic', position: 'left', min: 1e-16, max: 1,
        afterBuildTicks: s => { s.ticks = yTickValues.map(v => ({ value: v })); },
        afterFit: s => { s.width = 172; },
        grid: { display: false, drawTicks: false },
        border: { display: false },
        ticks: { color: '#222', font: { family: SANS, size: 26 }, padding: 17, autoSkip: false, callback: v => yLabel(v) }
      },
      y2: {
        type: 'logarithmic', position: 'right', min: 1e-16, max: 1,
        afterBuildTicks: s => { s.ticks = yTickValues.map(v => ({ value: v })); },
        afterFit: s => { s.width = 178; },
        grid: { display: false, drawTicks: false },
        border: { display: false },
        ticks: { color: '#222', font: { family: SANS, size: 26 }, padding: 25, autoSkip: false, callback: v => yLabel(v) }
      }
    }
  },
  plugins: [errorBarPlugin, framePlugin]
});
</script>
</body>
</html>
